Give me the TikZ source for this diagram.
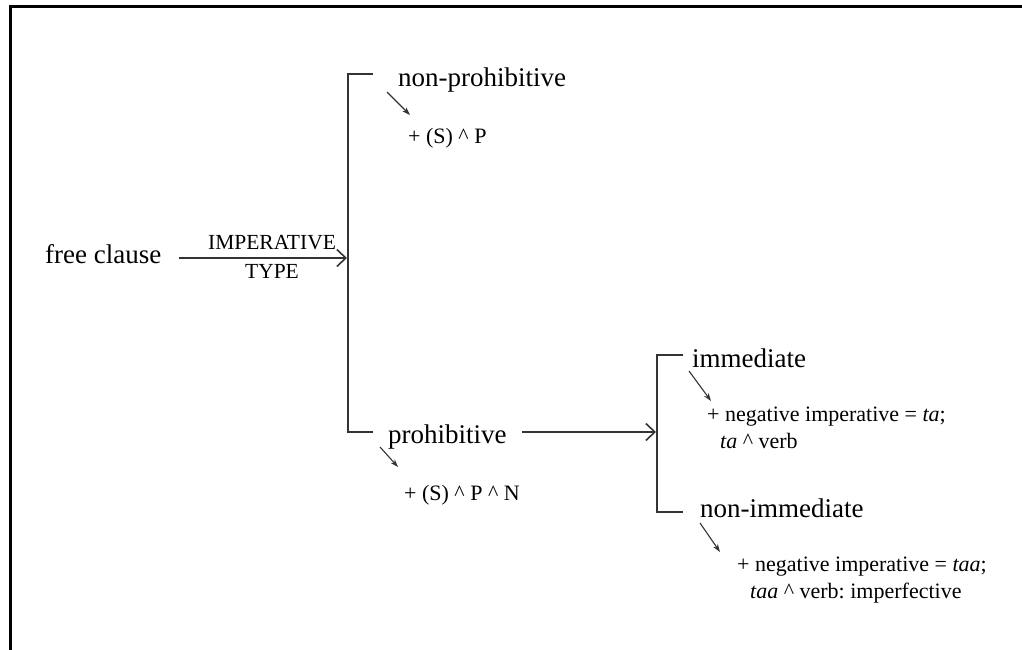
\documentclass[tikz,border=0pt]{standalone}
\usepackage{fontspec}
\setmainfont{Liberation Serif}
\usetikzlibrary{arrows.meta}
\frenchspacing
\begin{document}
\begin{tikzpicture}[x=1pt,y=-1pt,
  big/.style={font=\fontsize{27}{32}\selectfont, inner sep=0pt, anchor=base west},
  small/.style={font=\fontsize{22}{26.5}\selectfont, inner sep=0pt, anchor=base west, align=left},
  tag/.style={font=\fontsize{21.5}{24}\selectfont, inner sep=0pt, anchor=base},
  bracket/.style={line width=1.8pt, draw=black!80},
  bigarrow/.style={line width=1.8pt, draw=black!80, -{Straight Barb[length=9pt,width=17pt,line width=1.6pt]}},
  hint/.style={line width=1.1pt, draw=black!80, -{Stealth[length=8pt,width=5.5pt]}},
]
\useasboundingbox (0,0) rectangle (1022,650);
% partial frame
\draw[line width=3pt] (10,650) -- (10,7) -- (1022,7);

% texts (two-line nodes are placed at the baseline of their last line)
\node[big] (fc) at (45,263) {free clause};
\node[tag] (it1) at (272,249) {IMPERATIVE};
\node[tag] (it2) at (272,278) {TYPE};
\node[big] (np) at (398,87) {non-prohibitive};
\node[small] (npf) at (408,143) {+ (S) \textasciicircum{} P};
\node[big] (pr) at (388,443) {prohibitive};
\node[small] (prf) at (404,500) {+ (S) \textasciicircum{} P \textasciicircum{} N};
\node[big] (im) at (692,367) {immediate};
\node[small] (imf) at (707,448) {+ negative imperative = \textit{ta};\\\hspace*{13pt}\textit{ta} \textasciicircum{} verb};
\node[big] (ni) at (700,517) {non-immediate};
\node[small] (nif) at (737,598) {+ negative imperative = \textit{taa};\\\hspace*{13pt}\textit{taa} \textasciicircum{} verb: imperfective};

% first bracket
\coordinate (b1t) at (373,74);
\coordinate (b1b) at (373,432);
\coordinate (b1m) at (347,258);
\draw[bracket] (b1t) -- (348,74) -- (348,432) -- (b1b);
\draw[bigarrow] ([xshift=17pt]fc.east |- b1m) -- (b1m);

% second bracket
\coordinate (b2t) at (683,355);
\coordinate (b2b) at (683,512);
\coordinate (b2m) at (656,432);
\draw[bracket] (b2t) -- (657,355) -- (657,512) -- (b2b);
\draw[bigarrow] ([xshift=15pt]pr.east |- b2m) -- (b2m);

% small pointers to the realisations
\coordinate (npa) at (387,92);  \coordinate (npb) at (410,115);
\coordinate (pra) at (380,447); \coordinate (prb) at (398,467);
\coordinate (ima) at (689,371); \coordinate (imb) at (711,401);
\coordinate (nia) at (700,523); \coordinate (nib) at (720,552);
\draw[hint] (npa) -- (npb);
\draw[hint] (pra) -- (prb);
\draw[hint] (ima) -- (imb);
\draw[hint] (nia) -- (nib);
\end{tikzpicture}
\end{document}
